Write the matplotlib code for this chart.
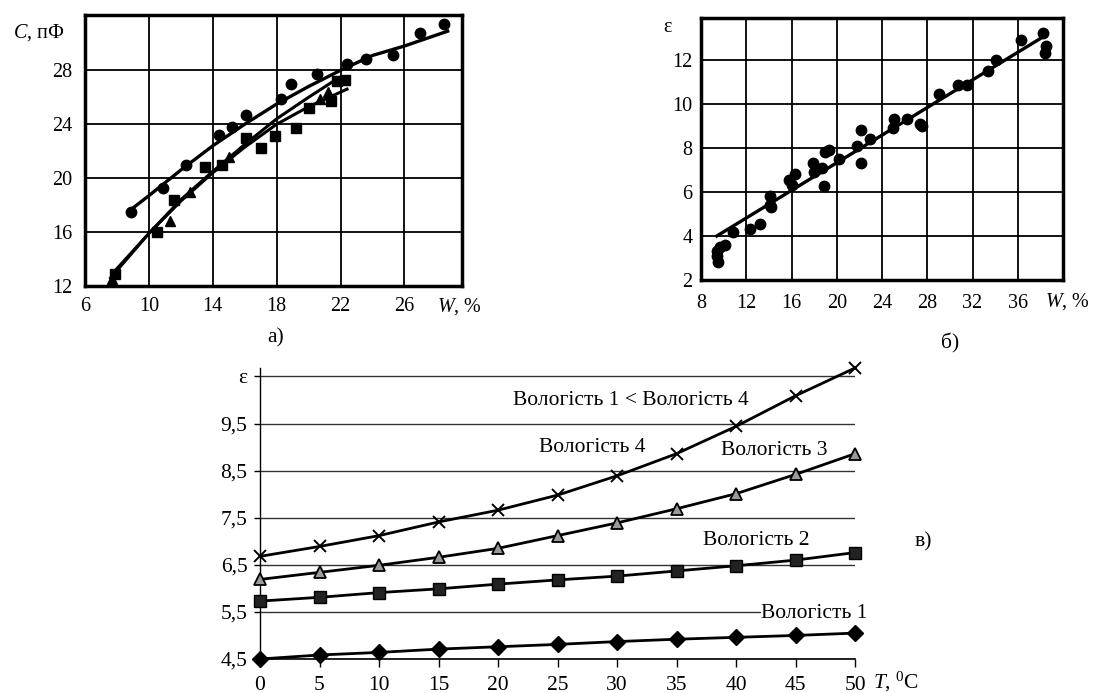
import numpy as np
import matplotlib.pyplot as plt

plt.rcParams['font.family'] = ['Liberation Serif', 'DejaVu Serif']
plt.rcParams['mathtext.fontset'] = 'custom'
plt.rcParams['mathtext.rm'] = 'Liberation Serif'
plt.rcParams['mathtext.it'] = 'Liberation Serif:italic'

# panel a) - capacity vs moisture
a_circ_W = [8.85, 10.9, 12.3, 14.4, 15.2, 16.1, 18.3, 18.9, 20.5, 22.4, 23.6, 25.3, 27.0, 28.5]
a_circ_C = [17.5, 19.3, 21.0, 23.2, 23.8, 24.7, 25.9, 27.0, 27.7, 28.5, 28.8, 29.1, 30.8, 31.4]
a_sq_W = [7.9, 10.5, 11.6, 13.5, 14.6, 16.1, 17.0, 17.9, 19.2, 20.0, 21.4, 21.8, 22.3]
a_sq_C = [12.9, 16.0, 18.4, 20.8, 21.0, 23.0, 22.2, 23.1, 23.7, 25.2, 25.7, 27.2, 27.3]
a_tri_W = [7.7, 11.3, 12.6, 15.0, 20.7, 21.2]
a_tri_C = [12.5, 16.8, 19.0, 21.6, 25.9, 26.4]
a_line1_W = [8.8, 10, 12, 14, 16, 18, 20, 22, 24, 26, 28.7]
a_line1_C = [17.6, 18.7, 20.6, 22.4, 24.0, 25.5, 26.8, 28.0, 29.1, 29.8, 30.9]
a_line2_W = [7.6, 10, 12, 14, 16, 18, 20, 21.7]
a_line2_C = [12.6, 15.9, 18.4, 20.5, 22.5, 24.4, 26.0, 27.3]
a_line3_W = [7.7, 10, 12, 14, 16, 18, 20, 22.4]
a_line3_C = [12.9, 15.9, 18.3, 20.4, 22.3, 24.0, 25.3, 26.6]
a_xticks = [6, 10, 14, 18, 22, 26]
a_yticks = [12, 16, 20, 24, 28]

# panel б) - permittivity vs moisture
b_W = [9.4, 9.4, 9.5, 9.7, 10.1, 10.8, 12.3, 13.2, 14.1, 14.1, 14.2, 16.0, 16.3, 15.8,
       17.9, 18.0, 18.9, 19.0, 19.3, 18.7, 20.2, 21.8, 22.1, 22.1, 22.9, 25.0, 25.1,
       26.2, 27.4, 27.5, 29.0, 30.75, 31.5, 33.4, 34.1, 36.3, 38.2, 38.5, 38.4]
b_eps = [3.3, 3.1, 2.8, 3.5, 3.6, 4.2, 4.3, 4.55, 5.4, 5.8, 5.3, 6.3, 6.8, 6.55,
         7.3, 6.9, 6.25, 7.8, 7.9, 7.1, 7.5, 8.1, 8.8, 7.3, 8.4, 8.9, 9.3,
         9.3, 9.1, 9.0, 10.45, 10.85, 10.85, 11.5, 12.0, 12.9, 13.2, 12.65, 12.3]
b_line_W = [9.4, 38.1]
b_line_eps = [4.0, 13.0]
b_xticks = [8, 12, 16, 20, 24, 28, 32, 36]
b_yticks = [2, 4, 6, 8, 10, 12]

# panel в) - permittivity vs temperature
T = [0, 5, 10, 15, 20, 25, 30, 35, 40, 45, 50]
eps1 = [4.5, 4.585, 4.64, 4.71, 4.76, 4.81, 4.87, 4.92, 4.96, 5.0, 5.05]
eps2 = [5.73, 5.81, 5.91, 5.99, 6.09, 6.18, 6.26, 6.37, 6.48, 6.6, 6.76]
eps3 = [6.19, 6.34, 6.49, 6.66, 6.85, 7.12, 7.39, 7.69, 8.01, 8.42, 8.86]
eps4 = [6.68, 6.89, 7.12, 7.41, 7.66, 7.98, 8.39, 8.86, 9.44, 10.09, 10.68]
c_yticks = [4.5, 5.5, 6.5, 7.5, 8.5, 9.5, 10.5]
c_ylabels = ['4,5', '5,5', '6,5', '7,5', '8,5', '9,5', 'ε']

W, H = 1098, 693
fs = 14.5


def box(l, t, r, b):
    return [l / W, 1 - b / H, (r - l) / W, (b - t) / H]


fig = plt.figure(figsize=(W / 100, H / 100), dpi=100)

# ---- a)
ax = fig.add_axes(box(85, 15, 462, 286))
ax.plot(a_line1_W, a_line1_C, color='k', lw=2.4)
ax.plot(a_line2_W, a_line2_C, color='k', lw=2.2)
ax.plot(a_line3_W, a_line3_C, color='k', lw=2.2)
ax.plot(a_circ_W, a_circ_C, 'o', color='k', ms=7.5)
ax.plot(a_sq_W, a_sq_C, 's', color='k', ms=7)
ax.plot(a_tri_W, a_tri_C, '^', color='k', ms=7.5)
ax.set_xlim(6, 29.6)
ax.set_ylim(12, 32.1)
ax.set_xticks(a_xticks)
ax.set_yticks(a_yticks)
ax.grid(True, color='k', lw=1.3)
ax.tick_params(length=0, labelsize=fs)
ax.tick_params(axis='x', pad=8)
ax.tick_params(axis='y', pad=9)
for s in ax.spines.values():
    s.set_linewidth(2.5)
fig.text(39 / W, 1 - 33 / H, '$C$, пФ', fontsize=fs, ha='center', va='center')
fig.text(437 / W, 1 - 307 / H, '$W$, %', fontsize=fs, ha='left', va='center')
fig.text(276 / W, 1 - 338 / H, 'а)', fontsize=fs + 1, ha='center', va='center')

# ---- б)
bx = fig.add_axes(box(701, 18, 1063, 280))
bx.plot(b_line_W, b_line_eps, color='k', lw=2.4)
bx.plot(b_W, b_eps, 'o', color='k', ms=7.5)
bx.set_xlim(8, 40)
bx.set_ylim(2, 13.9)
bx.set_xticks(b_xticks)
bx.set_yticks(b_yticks)
bx.grid(True, color='k', lw=1.3)
bx.tick_params(length=0, labelsize=fs)
bx.tick_params(axis='x', pad=10)
bx.tick_params(axis='y', pad=6)
for s in bx.spines.values():
    s.set_linewidth(2.5)
fig.text(668 / W, 1 - 28 / H, 'ε', fontsize=fs, ha='center', va='center')
fig.text(1045 / W, 1 - 302 / H, '$W$, %', fontsize=fs, ha='left', va='center')
fig.text(950 / W, 1 - 343 / H, 'б)', fontsize=fs + 1, ha='center', va='center')

# ---- в)
cx = fig.add_axes(box(260, 368, 855, 659))
cx.plot(T, eps1, marker='D', color='k', lw=2, ms=8, clip_on=False, zorder=3)
cx.plot(T, eps2, marker='s', color='k', mfc='#222222', lw=2, ms=8.5, clip_on=False, zorder=3)
cx.plot(T, eps3, marker='^', color='k', mfc='#9a9a9a', mec='k', mew=1.3, lw=2, ms=9, clip_on=False, zorder=3)
cx.plot(T, eps4, marker='x', color='k', lw=2, ms=9, mew=1.4, clip_on=False, zorder=3)
cx.set_xlim(0, 50)
cx.set_ylim(4.5, 10.68)
cx.set_xticks(T)
cx.set_yticks(c_yticks)
cx.set_yticklabels(c_ylabels)
cx.yaxis.grid(True, color='#333333', lw=1.0)
cx.spines['top'].set_visible(False)
cx.spines['right'].set_visible(False)
cx.spines['left'].set_linewidth(1.0)
cx.spines['bottom'].set_linewidth(1.2)
cx.tick_params(axis='x', length=6, width=1, pad=6, labelsize=fs + 1)
cx.tick_params(axis='y', length=4, width=1, pad=5, labelsize=fs + 1)
lab = dict(fontsize=fs + 1, ha='center', va='center')
cx.text(31.2, 10.0, 'Вологість 1 < Вологість 4', **lab)
cx.text(27.9, 8.99, 'Вологість 4', **lab)
cx.text(43.2, 8.93, 'Вологість 3', **lab)
cx.text(41.7, 7.02, 'Вологість 2', **lab)
cx.text(46.6, 5.46, 'Вологість 1', clip_on=False,
        bbox=dict(facecolor='white', edgecolor='none', pad=0.5), **lab)
fig.text(923 / W, 1 - 542 / H, 'в)', fontsize=fs + 1, ha='center', va='center')
fig.text(873 / W, 1 - 682 / H, '$T$, $^{0}$C', fontsize=fs + 1, ha='left', va='center')

fig.savefig('out.png', dpi=100)
